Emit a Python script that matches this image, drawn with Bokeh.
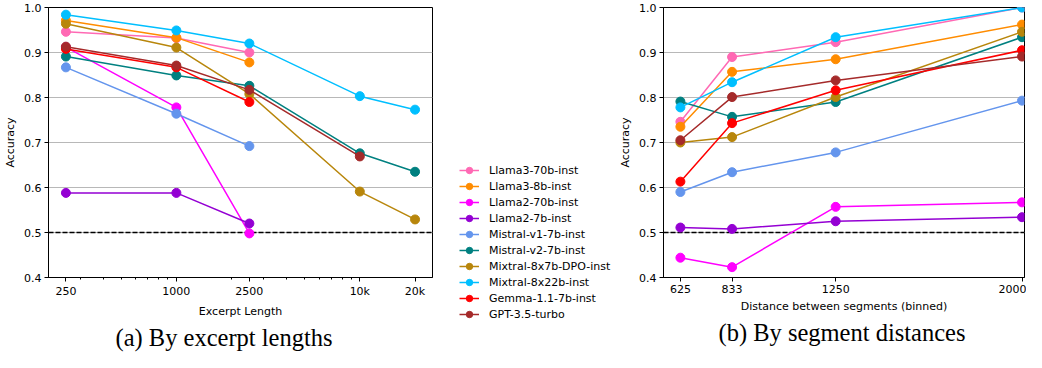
from bokeh.plotting import figure
from bokeh.models import Range1d, FixedTicker, Span, Legend, LegendItem, Title
from bokeh.layouts import row, column
from bokeh.embed import file_html
from bokeh.resources import INLINE

# ---------------- data ----------------
models = ["Llama3-70b-inst", "Llama3-8b-inst", "Llama2-70b-inst", "Llama2-7b-inst",
          "Mistral-v1-7b-inst", "Mistral-v2-7b-inst", "Mixtral-8x7b-DPO-inst",
          "Mixtral-8x22b-inst", "Gemma-1.1-7b-inst", "GPT-3.5-turbo"]
colors = ["#FF69B4", "#FF8C00", "#FF00FF", "#9400D3", "#6495ED",
          "#008080", "#B8860B", "#00BFFF", "#FF0000", "#A52A2A"]

excerpt_lengths = [250, 1000, 2500, 10000, 20000]
excerpt_tick_labels = ["250", "1000", "2500", "10k", "20k"]

len_llama3_70b = [0.946, 0.932, 0.900, None, None]
len_llama3_8b = [0.971, 0.933, 0.878, None, None]
len_llama2_70b = [0.912, 0.778, 0.498, None, None]
len_llama2_7b = [0.588, 0.588, 0.520, None, None]
len_mistral_v1 = [0.867, 0.764, 0.692, None, None]
len_mistral_v2 = [0.891, 0.849, 0.826, 0.676, 0.635]
len_mixtral_8x7b = [0.964, 0.911, 0.808, 0.591, 0.529]
len_mixtral_8x22b = [0.984, 0.949, 0.920, 0.803, 0.773]
len_gemma = [0.908, 0.867, 0.790, None, None]
len_gpt35 = [0.913, 0.871, 0.817, 0.669, None]

distances = [625, 833, 1250, 2000]
distance_tick_labels = ["625", "833", "1250", "2000"]

dist_llama3_70b = [0.746, 0.890, 0.923, 1.000]
dist_llama3_8b = [0.735, 0.857, 0.885, 0.962]
dist_llama2_70b = [0.444, 0.423, 0.557, 0.567]
dist_llama2_7b = [0.511, 0.508, 0.525, 0.534]
dist_mistral_v1 = [0.590, 0.634, 0.678, 0.793]
dist_mistral_v2 = [0.791, 0.757, 0.790, 0.934]
dist_mixtral_8x7b = [0.700, 0.712, 0.801, 0.946]
dist_mixtral_8x22b = [0.778, 0.834, 0.934, 1.000]
dist_gemma = [0.613, 0.743, 0.816, 0.905]
dist_gpt35 = [0.705, 0.801, 0.838, 0.891]

y_ticks = [0.4, 0.5, 0.6, 0.7, 0.8, 0.9, 1.0]
y_tick_labels = ["0.4", "0.5", "0.6", "0.7", "0.8", "0.9", "1.0"]
chance_level = 0.5

len_series = [len_llama3_70b, len_llama3_8b, len_llama2_70b, len_llama2_7b, len_mistral_v1,
              len_mistral_v2, len_mixtral_8x7b, len_mixtral_8x22b, len_gemma, len_gpt35]
dist_series = [dist_llama3_70b, dist_llama3_8b, dist_llama2_70b, dist_llama2_7b, dist_mistral_v1,
               dist_mistral_v2, dist_mixtral_8x7b, dist_mixtral_8x22b, dist_gemma, dist_gpt35]

FONT = "DejaVu Sans"
FS = "11px"
H = 352
TOP = 7
BOTTOM = 75


def style(p, xlabel):
    p.outline_line_color = "black"
    p.outline_line_width = 1
    p.outline_line_alpha = 1
    p.xgrid.visible = False
    p.ygrid.ticker = FixedTicker(ticks=[0.5, 0.6, 0.7, 0.8, 0.9])
    p.ygrid.grid_line_color = "#b8b8b8"
    p.ygrid.grid_line_width = 1
    p.yaxis.ticker = FixedTicker(ticks=y_ticks)
    p.yaxis.major_label_overrides = {t: l for t, l in zip(y_ticks, y_tick_labels)}
    for ax in (p.xaxis[0], p.yaxis[0]):
        ax.axis_line_color = "black"
        ax.major_tick_in = 0
        ax.major_tick_out = 4
        ax.minor_tick_in = 0
        ax.minor_tick_out = 2
        ax.major_label_text_font = FONT
        ax.major_label_text_font_size = FS
        ax.major_label_text_color = "black"
        ax.axis_label_text_font = FONT
        ax.axis_label_text_font_size = FS
        ax.axis_label_text_font_style = "normal"
        ax.axis_label_text_color = "black"
        ax.major_label_standoff = 3
        ax.axis_label_standoff = 4
    p.xaxis.axis_label = xlabel
    p.yaxis.axis_label = "Accuracy"
    p.add_layout(Span(location=chance_level, dimension="width", line_color="black",
                      line_width=1.5, line_dash="5 2", level="underlay"))


def caption(text, offset):
    return Title(text=text, align="left", offset=offset,
                 text_font="Liberation Serif", text_font_size="24.5px",
                 text_font_style="normal", text_color="black", standoff=3)


# ---------------- left: by excerpt length ----------------
p1 = figure(width=442, height=H, x_axis_type="log",
            x_range=Range1d(200.9, 24900), y_range=Range1d(0.4, 1.0),
            toolbar_location=None, output_backend="svg",
            min_border_left=48, min_border_right=10,
            min_border_top=TOP, min_border_bottom=BOTTOM)
style(p1, "Excerpt Length")
p1.xaxis.ticker = FixedTicker(ticks=excerpt_lengths,
                              minor_ticks=[200, 300, 400, 500, 600, 700, 800, 900,
                                           2000, 3000, 4000, 5000, 6000, 7000, 8000, 9000])
p1.xaxis.major_label_overrides = {t: l for t, l in zip(excerpt_lengths, excerpt_tick_labels)}

for vals, c in zip(len_series, colors):
    xs = [x for x, v in zip(excerpt_lengths, vals) if v is not None]
    ys = [v for v in vals if v is not None]
    p1.line(xs, ys, line_color=c, line_width=1.5)
    p1.scatter(xs, ys, size=9, fill_color=c, line_color=c)

p1.add_layout(caption("(a) By excerpt lengths", 67), "below")

# ---------------- legend ----------------
LEG_TOP = 162
LEG_H = 160
pleg = figure(width=174, height=H, x_range=Range1d(0, 1), y_range=Range1d(0, 1),
              toolbar_location=None, output_backend="svg",
              x_axis_location=None, y_axis_location=None,
              min_border_left=17, min_border_right=0,
              min_border_top=LEG_TOP, min_border_bottom=H - LEG_TOP - LEG_H)
pleg.grid.visible = False
pleg.outline_line_color = None
items = []
for name, c in zip(models, colors):
    rl = pleg.line([-2, -1], [-2, -1], line_color=c, line_width=1.5)
    rs = pleg.scatter([-2, -1], [-2, -1], fill_color=c, line_color=c)
    items.append(LegendItem(label=name, renderers=[rl, rs]))
leg = Legend(items=items, location="top_left", border_line_color=None,
             background_fill_alpha=0, padding=0, margin=0, spacing=0,
             glyph_width=20, glyph_height=16, label_height=16, label_standoff=10,
             label_text_font=FONT, label_text_font_size=FS, label_text_color="black")
pleg.add_layout(leg, "center")

# ---------------- right: by segment distance ----------------
p2 = figure(width=410, height=H,
            x_range=Range1d(557, 2010), y_range=Range1d(0.4, 1.0),
            toolbar_location=None, output_backend="svg",
            min_border_left=45, min_border_right=2,
            min_border_top=TOP, min_border_bottom=BOTTOM)
style(p2, "Distance between segments (binned)")
p2.xaxis.ticker = FixedTicker(ticks=distances, minor_ticks=[])
p2.xaxis.major_label_overrides = {t: l for t, l in zip(distances, distance_tick_labels)}

for vals, c in zip(dist_series, colors):
    p2.line(distances, vals, line_color=c, line_width=1.5)
    p2.scatter(distances, vals, size=9, fill_color=c, line_color=c)

p2.add_layout(caption("(b) By segment distances", 55), "below")

layout = row(p1, column(pleg), p2)
open("out.html", "w").write(file_html(layout, INLINE))
